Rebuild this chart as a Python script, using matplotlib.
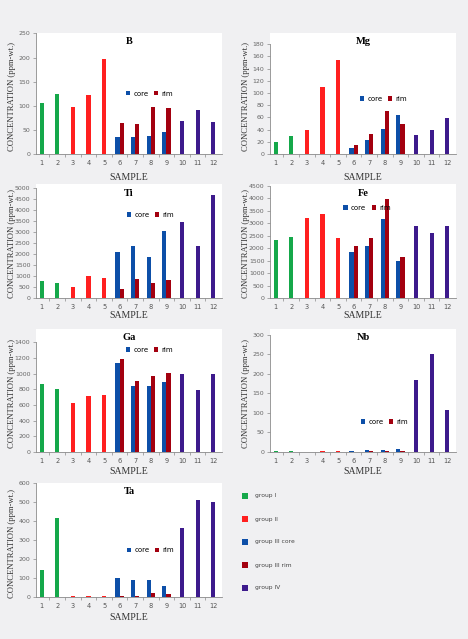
import numpy as np
import matplotlib
matplotlib.use("Agg")
from matplotlib import pyplot as plt
from matplotlib.patches import Rectangle

# samples 1-5 and 10-12 have a single value, samples 6-9 have core and rim
samples = list(range(1, 13))
single_samples = [1, 2, 3, 4, 5, 10, 11, 12]
single_groups = ["group I", "group I", "group II", "group II", "group II",
                 "group IV", "group IV", "group IV"]
pair_samples = [6, 7, 8, 9]

B_single = [106, 124, 98, 122, 198, 68, 91, 66]
B_core = [35, 36, 38, 46]
B_rim = [64, 63, 97, 95]

Mg_single = [19.6, 28.8, 39.7, 110, 155, 31.5, 39.7, 58.7]
Mg_core = [10.3, 22.3, 41.3, 64.7]
Mg_rim = [14, 32.6, 71, 50]

Ti_single = [788, 682, 500, 1000, 894, 3470, 2379, 4712]
Ti_core = [2106, 2379, 1879, 3061]
Ti_rim = [394, 879, 697, 818]

Fe_single = [2317, 2450, 3222, 3355, 2396, 2876, 2623, 2876]
Fe_core = [1851, 2064, 3169, 1491]
Fe_rim = [2064, 2410, 3968, 1624]

Ga_single = [865, 806, 628, 713, 725, 995, 789, 991]
Ga_core = [1135, 848, 839, 894]
Ga_rim = [1185, 911, 966, 1012]

Nb_single = [3.3, 1.7, 1, 3.3, 3.3, 184, 250, 106.6]
Nb_core = [3.3, 5, 5, 6.6]
Nb_rim = [1, 1.7, 1.7, 2.5]

Ta_single = [142, 417, 7, 7, 3.6, 366, 510, 503]
Ta_core = [102, 88, 92, 59]
Ta_rim = [5, 5, 23, 18]

group_labels = ["group I", "group II", "group III core", "group III rim", "group IV"]
group_colors = {"group I": "#15a84a", "group II": "#ff1f1f", "group III core": "#0d4fa8",
                "group III rim": "#a3000f", "group IV": "#3d1a8c"}

W, H = 468, 639
bg = "#f0f0f2"
grey = "#8a8a8a"
serif = "Liberation Serif"

# element, values, (left, top, right, zero line) in px, view top, tick top, step, legend pos, sample label y
panels = [
    ("B", B_single, B_core, B_rim, (36, 33, 222, 154), 251, 250, 50, (0.482, 0.50), 178),
    ("Mg", Mg_single, Mg_core, Mg_rim, (270, 33, 456, 154), 198.5, 180, 20, (0.482, 0.455), 178),
    ("Ti", Ti_single, Ti_core, Ti_rim, (36, 184, 222, 298), 5197, 5000, 500, (0.487, 0.73), 315),
    ("Fe", Fe_single, Fe_core, Fe_rim, (270, 184, 456, 298), 4567, 4500, 500, (0.395, 0.79), 315),
    ("Ga", Ga_single, Ga_core, Ga_rim, (36, 329, 222, 452), 1570, 1400, 200, (0.482, 0.83), 472),
    ("Nb", Nb_single, Nb_core, Nb_rim, (270, 329, 456, 452), 315, 300, 50, (0.487, 0.245), 472),
    ("Ta", Ta_single, Ta_core, Ta_rim, (36, 483, 222, 597), 602, 600, 100, (0.487, 0.41), 617),
]

fig = plt.figure(figsize=(W / 100, H / 100), dpi=100, facecolor=bg)

bar_w = 0.27
for name, single, core, rim, box, ytop, tick_top, step, leg_pos, label_y in panels:
    left, top, right, bottom = box
    ax = fig.add_axes([left / W, 1 - bottom / H, (right - left) / W, (bottom - top) / H])
    ax.set_facecolor("white")

    ax.bar(single_samples, single, bar_w, color=[group_colors[g] for g in single_groups])
    px = np.array(pair_samples)
    ax.bar(px - bar_w / 2, core, bar_w, color=group_colors["group III core"], label="core")
    ax.bar(px + bar_w / 2, rim, bar_w, color=group_colors["group III rim"], label="rim")

    ax.set_xlim(0.635, 12.56)
    ax.set_ylim(0, ytop)
    ax.set_yticks(np.arange(0, tick_top + 1, step))
    ax.set_xticks(samples)
    ax.set_xticks(np.arange(1.5, 12.5, 1), minor=True)
    ax.tick_params(axis="x", which="major", length=0, pad=4.5, labelsize=4.8, labelcolor="#555555")
    ax.tick_params(axis="x", which="minor", length=2.5, width=0.5, color=grey)
    ax.tick_params(axis="y", length=2.5, width=0.5, color=grey, pad=1.5, labelsize=4.5,
                   labelcolor="#666666")
    for s in ["top", "right"]:
        ax.spines[s].set_visible(False)
    ax.spines["left"].set_bounds(0, tick_top)
    for s in ["left", "bottom"]:
        ax.spines[s].set_color(grey)
        ax.spines[s].set_linewidth(0.6)

    ax.text(0.5, 1 - 9 / (bottom - top), name, transform=ax.transAxes, ha="center", va="center",
            fontsize=7.5, fontweight="bold", family=serif)
    ax.legend(loc="center left", bbox_to_anchor=leg_pos, frameon=False, ncol=2, fontsize=5,
              handlelength=0.6, handleheight=0.6, handletextpad=0.5, columnspacing=0.8,
              borderpad=0, borderaxespad=0)

    fig.text((left + right) / 2 / W, 1 - label_y / H, "SAMPLE", ha="center", va="center",
             fontsize=7, family=serif, color="#333333")
    fig.text((left - 24) / W, 1 - ((top + bottom) / 2 + 3) / H, "CONCENTRATION (ppm-wt.)",
             rotation=90, ha="center", va="center", fontsize=6.2, family=serif, color="#333333")

# group legend in the empty bottom-right slot
for i, g in enumerate(group_labels):
    yc = 496 + 23 * i
    fig.add_artist(Rectangle((242 / W, 1 - (yc + 2.8) / H), 5.6 / W, 5.6 / H,
                             transform=fig.transFigure, facecolor=group_colors[g],
                             edgecolor="none"))
    fig.text(255 / W, 1 - yc / H, g, ha="left", va="center", fontsize=4.3, color="#444444")

fig.savefig("out.png", dpi=100, facecolor=bg)
